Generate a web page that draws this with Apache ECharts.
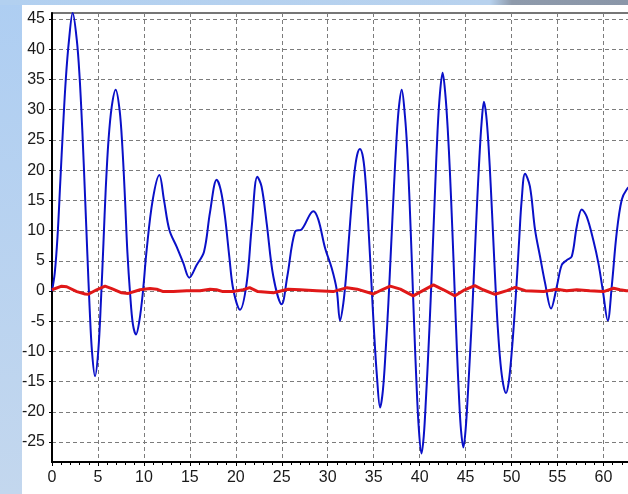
<!DOCTYPE html>
<html>
<head>
<meta charset="utf-8">
<script src="https://cdn.jsdelivr.net/npm/echarts@6/dist/echarts.min.js"></script>
<style>
  html, body { margin: 0; padding: 0; background: #ffffff; }
  #wrap { position: relative; width: 628px; height: 494px; overflow: hidden; background: #ffffff; }
  #leftBand { position: absolute; left: 0; top: 0; width: 22px; height: 494px;
    background: linear-gradient(to bottom, #aecef2, #c3d7ee); }
  #topBand { position: absolute; left: 0; top: 0; width: 628px; height: 5px;
    background: linear-gradient(to right, #b2d0f0 0%, #b8d2ee 78%, #8e9aab 81.5%, #8a96a8 100%); }
  #chart { position: absolute; left: 0; top: 0; width: 628px; height: 494px; }
</style>
</head>
<body>
<div id="wrap">
  <div id="leftBand"></div>
  <div id="topBand"></div>
  <div id="chart"></div>
</div>
<script>
// Signal trace (blue): [t, amplitude]
const signalA = [
  [0, 0], [0.3, 3], [0.6, 9], [0.9, 18], [1.2, 27], [1.5, 35], [1.85, 41.5],
  [2.25, 46], [2.7, 41.5], [3.0, 35.5], [3.3, 26.5], [3.6, 15.5], [3.85, 6], [4.1, -3],
  [4.35, -10], [4.68, -14.1], [5.04, -9.8], [5.33, -1.5], [5.6, 8], [5.85, 17],
  [6.15, 25], [6.5, 30.5], [6.93, 33.3], [7.35, 30], [7.65, 24], [7.95, 15], [8.2, 6.5],
  [8.5, -0.5], [8.8, -5.5], [9.14, -7.2], [9.5, -5], [9.87, -0.5], [10.3, 6.8],
  [10.95, 15], [11.68, 19.2], [12.19, 15], [12.77, 10.1], [13.57, 7.3], [14.29, 4.6],
  [14.94, 2.2], [15.74, 4.3], [16.54, 6.5], [17.19, 13], [17.92, 18.4], [18.36, 16.7],
  [18.82, 12.3], [19.29, 5.7], [19.73, 0.2], [20.46, -3.1], [21.18, 1.3], [21.73, 10.6],
  [22.34, 18.9], [22.8, 17.3], [23.36, 11.2], [24.08, 2.4], [24.99, -2.2], [25.6, 2.4],
  [26.44, 9.8], [27.17, 10.2], [28.44, 13.2], [28.98, 11.8], [29.71, 7.1], [30.43, 3.8],
  [30.98, 0.2], [31.34, -4.9], [31.7, -2], [32.0, 2.5], [32.3, 8.5], [32.6, 14.5],
  [32.9, 19.5], [33.2, 22.5], [33.5, 23.5], [33.85, 22], [34.15, 17.5], [34.45, 10],
  [34.75, 1.5], [35.05, -7], [35.35, -14], [35.7, -19.3], [36.0, -16.5], [36.3, -10],
  [36.6, -2], [36.9, 7.5], [37.2, 17], [37.5, 25.5], [37.75, 30.5], [38.05, 33.3],
  [38.4, 29], [38.65, 23.5], [38.9, 15], [39.15, 5], [39.4, -5.5], [39.65, -15],
  [39.9, -22.5], [40.2, -26.9], [40.45, -24], [40.7, -17.5], [40.95, -10], [41.2, -1.5],
  [41.45, 8], [41.7, 17.5], [41.95, 26.5], [42.2, 32.5], [42.5, 36.1], [42.8, 32.5],
  [43.05, 27], [43.3, 19.5], [43.55, 10.5], [43.8, 0.5], [44.05, -9.5], [44.3, -18],
  [44.5, -23], [44.76, -25.9], [45.0, -23], [45.25, -17], [45.5, -10], [45.75, -2.5],
  [46.0, 6], [46.25, 14.5], [46.5, 22], [46.75, 28], [47.0, 31.3], [47.25, 29],
  [47.5, 24], [47.75, 17], [48.0, 9], [48.25, 1], [48.5, -6], [48.8, -12], [49.1, -15.5],
  [49.4, -16.9], [49.7, -15], [50.0, -10.5], [50.3, -4.5], [50.6, 2.5], [50.85, 9],
  [51.1, 15], [51.47, 19.4], [52.0, 17.3], [52.56, 10.1], [53.1, 5.7], [53.65, 1.3],
  [54.3, -2.9], [54.92, 0.7], [55.46, 4.3], [56.0, 5.1], [56.55, 5.7], [57.09, 10.6],
  [57.64, 13.5], [58.18, 12.3], [58.9, 8.4], [59.45, 4.6], [59.92, 0.2], [60.47, -4.9],
  [60.9, 0.7], [61.44, 9.6], [61.99, 15.1], [62.53, 16.8], [63.0, 17.3], [63.5, 17.0]
];

// Residual trace (red): [t, amplitude]
const signalB = [
  [0, 0.2], [1.05, 0.8], [1.6, 0.7], [2.7, -0.1], [3.6, -0.5], [3.95, -0.55], [4.86, 0.2],
  [5.77, 0.8], [6.5, 0.4], [7.58, -0.3], [8.3, -0.4], [9.58, 0.2], [10.66, 0.4],
  [11.39, 0.3], [12.1, -0.1], [13.2, -0.1], [14.66, 0.05], [16.1, 0.05], [17.2, 0.3],
  [17.9, 0.2], [18.6, -0.1], [19.7, -0.1], [20.8, 0.2], [21.5, 0.55], [22.4, -0.1],
  [24.1, -0.3], [25.0, 0.05], [25.7, 0.3], [27.0, 0.2], [28.8, 0.05], [30.6, -0.1],
  [32.1, 0.55], [33.2, 0.3], [34.96, -0.5], [35.9, 0.2], [36.8, 0.8], [37.9, 0.3],
  [39.3, -0.8], [41.5, 1.0], [42.6, 0.2], [43.85, -0.8], [44.9, 0.2], [46.0, 0.9],
  [46.9, 0.2], [48.2, -0.55], [49.5, 0.05], [50.4, 0.6], [51.5, 0.05], [53.5, -0.1],
  [54.9, 0.3], [56.0, 0.05], [57.1, 0.2], [58.5, 0.05], [60.0, -0.1], [61.1, 0.45],
  [61.8, 0.2], [62.5, 0.05], [63.5, 0.1]
];

// Axis ticks
const yTickValues = [-25, -20, -15, -10, -5, 0, 5, 10, 15, 20, 25, 30, 35, 40, 45];
const xRange = [0, 65];
const yRange = [-28.3, 46];

const chart = echarts.init(document.getElementById('chart'), null, { renderer: 'canvas' });

const font = '"Liberation Sans", Arial, sans-serif';
const gridDash = { color: '#7c7c7c', width: 1, type: [4, 3] };

chart.setOption({
  animation: false,
  backgroundColor: 'transparent',
  grid: {
    left: 52, top: 13, width: 597.4, height: 449,
    outerBoundsMode: 'none', containLabel: false,
    show: true, borderColor: '#4a4a4a', borderWidth: 1.5, backgroundColor: 'transparent'
  },
  xAxis: {
    type: 'value',
    min: xRange[0], max: xRange[1], interval: 5,
    axisLine: { show: true, onZero: false, lineStyle: { color: '#000', width: 2 } },
    axisTick: { show: true, length: 4, lineStyle: { color: '#000', width: 1 } },
    minorTick: { show: true, splitNumber: 5, length: 3, lineStyle: { color: '#000', width: 1 } },
    splitLine: { show: true, lineStyle: gridDash },
    axisLabel: { color: '#1a1a1a', fontSize: 16, fontFamily: font, margin: 8 }
  },
  yAxis: {
    type: 'value',
    min: yRange[0], max: yRange[1],
    axisLine: { show: true, onZero: false, lineStyle: { color: '#000', width: 2 } },
    axisTick: { show: true, length: 3, customValues: yTickValues, lineStyle: { color: '#000', width: 1 } },
    splitLine: { show: true, lineStyle: gridDash },
    axisLabel: { color: '#1a1a1a', fontSize: 16, fontFamily: font, margin: 7, customValues: yTickValues }
  },
  series: [
    {
      type: 'line', data: signalA, smooth: 0.35, symbol: 'none',
      lineStyle: { color: '#0a10c8', width: 2 }, z: 3
    },
    {
      type: 'line', data: signalB, smooth: false, symbol: 'none',
      lineStyle: { color: '#e01818', width: 3 }, z: 4
    }
  ]
});
</script>
</body>
</html>
